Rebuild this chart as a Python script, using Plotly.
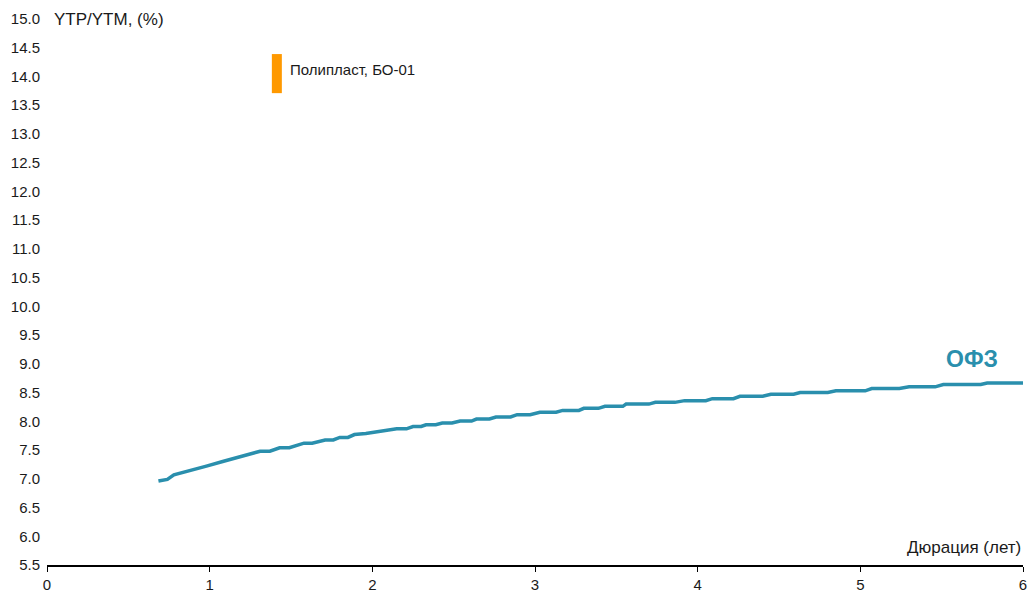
import plotly.graph_objects as go

# OFZ zero-coupon curve (duration in years, yield in %)
ofz_dur = [0.685, 0.74, 0.78, 0.88, 0.98, 1.08, 1.19, 1.31, 1.37, 1.43, 1.49, 1.58, 1.63,
           1.71, 1.76, 1.80, 1.85, 1.89, 1.96, 2.00, 2.09, 2.15, 2.21, 2.25, 2.30, 2.33,
           2.39, 2.43, 2.49, 2.54, 2.61, 2.64, 2.72, 2.76, 2.85, 2.89, 2.97, 3.03, 3.13,
           3.17, 3.27, 3.30, 3.39, 3.43, 3.54, 3.56, 3.70, 3.74, 3.86, 3.92, 4.05, 4.09,
           4.22, 4.26, 4.40, 4.45, 4.59, 4.63, 4.80, 4.85, 5.03, 5.07, 5.24, 5.30, 5.46,
           5.51, 5.74, 5.78, 6.00]
ofz_yld = [6.96, 6.99, 7.07, 7.14, 7.22, 7.30, 7.39, 7.48, 7.48, 7.54, 7.54, 7.62, 7.62,
           7.675, 7.675, 7.72, 7.72, 7.77, 7.79, 7.81, 7.84, 7.87, 7.87, 7.91, 7.91, 7.94,
           7.94, 7.97, 7.97, 8.005, 8.005, 8.04, 8.04, 8.075, 8.075, 8.115, 8.115, 8.157, 8.157,
           8.19, 8.19, 8.226, 8.226, 8.26, 8.26, 8.30, 8.30, 8.33, 8.33, 8.36, 8.36, 8.394,
           8.394, 8.435, 8.435, 8.47, 8.47, 8.50, 8.50, 8.53, 8.53, 8.57, 8.57, 8.60, 8.60,
           8.64, 8.64, 8.667, 8.667]

# Polyplast BO-01 yield range
poly_dur = [1.413, 1.413]
poly_yld = [13.71, 14.39]
poly_name = "Полипласт, БО-01"

y_ticks = [5.5, 6.0, 6.5, 7.0, 7.5, 8.0, 8.5, 9.0, 9.5, 10.0, 10.5, 11.0, 11.5, 12.0,
           12.5, 13.0, 13.5, 14.0, 14.5, 15.0]
x_ticks = [0, 1, 2, 3, 4, 5, 6]

FONT = "Liberation Sans, Arial, sans-serif"
TEAL = "#2a8fad"
ORANGE = "#ff9900"
FS = 15

fig = go.Figure()
fig.add_trace(go.Scatter(x=ofz_dur, y=ofz_yld, mode="lines",
                         line=dict(color=TEAL, width=3.5), showlegend=False,
                         hoverinfo="skip"))
fig.add_trace(go.Scatter(x=poly_dur, y=poly_yld, mode="lines",
                         line=dict(color=ORANGE, width=10), showlegend=False,
                         hoverinfo="skip"))

fig.update_layout(
    width=1029, height=592,
    margin=dict(l=47, r=6, t=19, b=27, pad=0),
    paper_bgcolor="white", plot_bgcolor="white",
    font=dict(family=FONT, size=FS, color="#1a1a1a"),
    xaxis=dict(range=[0, 6], tickvals=x_ticks, ticktext=[str(v) for v in x_ticks],
               showgrid=False, zeroline=False, showline=True, linecolor="black",
               linewidth=1.5, ticks="outside", ticklen=5, tickcolor="black",
               tickfont=dict(size=FS, family=FONT), automargin=False),
    yaxis=dict(range=[5.5, 15.0], tickvals=y_ticks, ticktext=[f"{v:.1f}" for v in y_ticks],
               showgrid=False, zeroline=False, showline=False, ticks="",
               ticklabelstandoff=6, tickfont=dict(size=FS, family=FONT), automargin=False),
    annotations=[
        dict(x=0.03, y=15.0, xref="x", yref="y", text="YTP/YTM, (%)", showarrow=False,
             xanchor="left", yanchor="middle", font=dict(size=17, family=FONT)),
        dict(x=6.0, y=5.81, xref="x", yref="y", text="Дюрация (лет)", showarrow=False,
             xanchor="right", yanchor="middle", font=dict(size=17, family=FONT)),
        dict(x=5.684, y=9.08, xref="x", yref="y", text="<b>ОФЗ</b>", showarrow=False,
             xanchor="center", yanchor="middle", font=dict(size=23, family=FONT, color=TEAL)),
        dict(x=1.48, y=14.13, xref="x", yref="y", text=poly_name, showarrow=False,
             xanchor="left", yanchor="middle", font=dict(size=FS, family=FONT)),
    ],
)

fig.write_html("out.html", config={"displayModeBar": False},
               post_script="document.body.style.margin='0';document.body.style.overflow='hidden';")
